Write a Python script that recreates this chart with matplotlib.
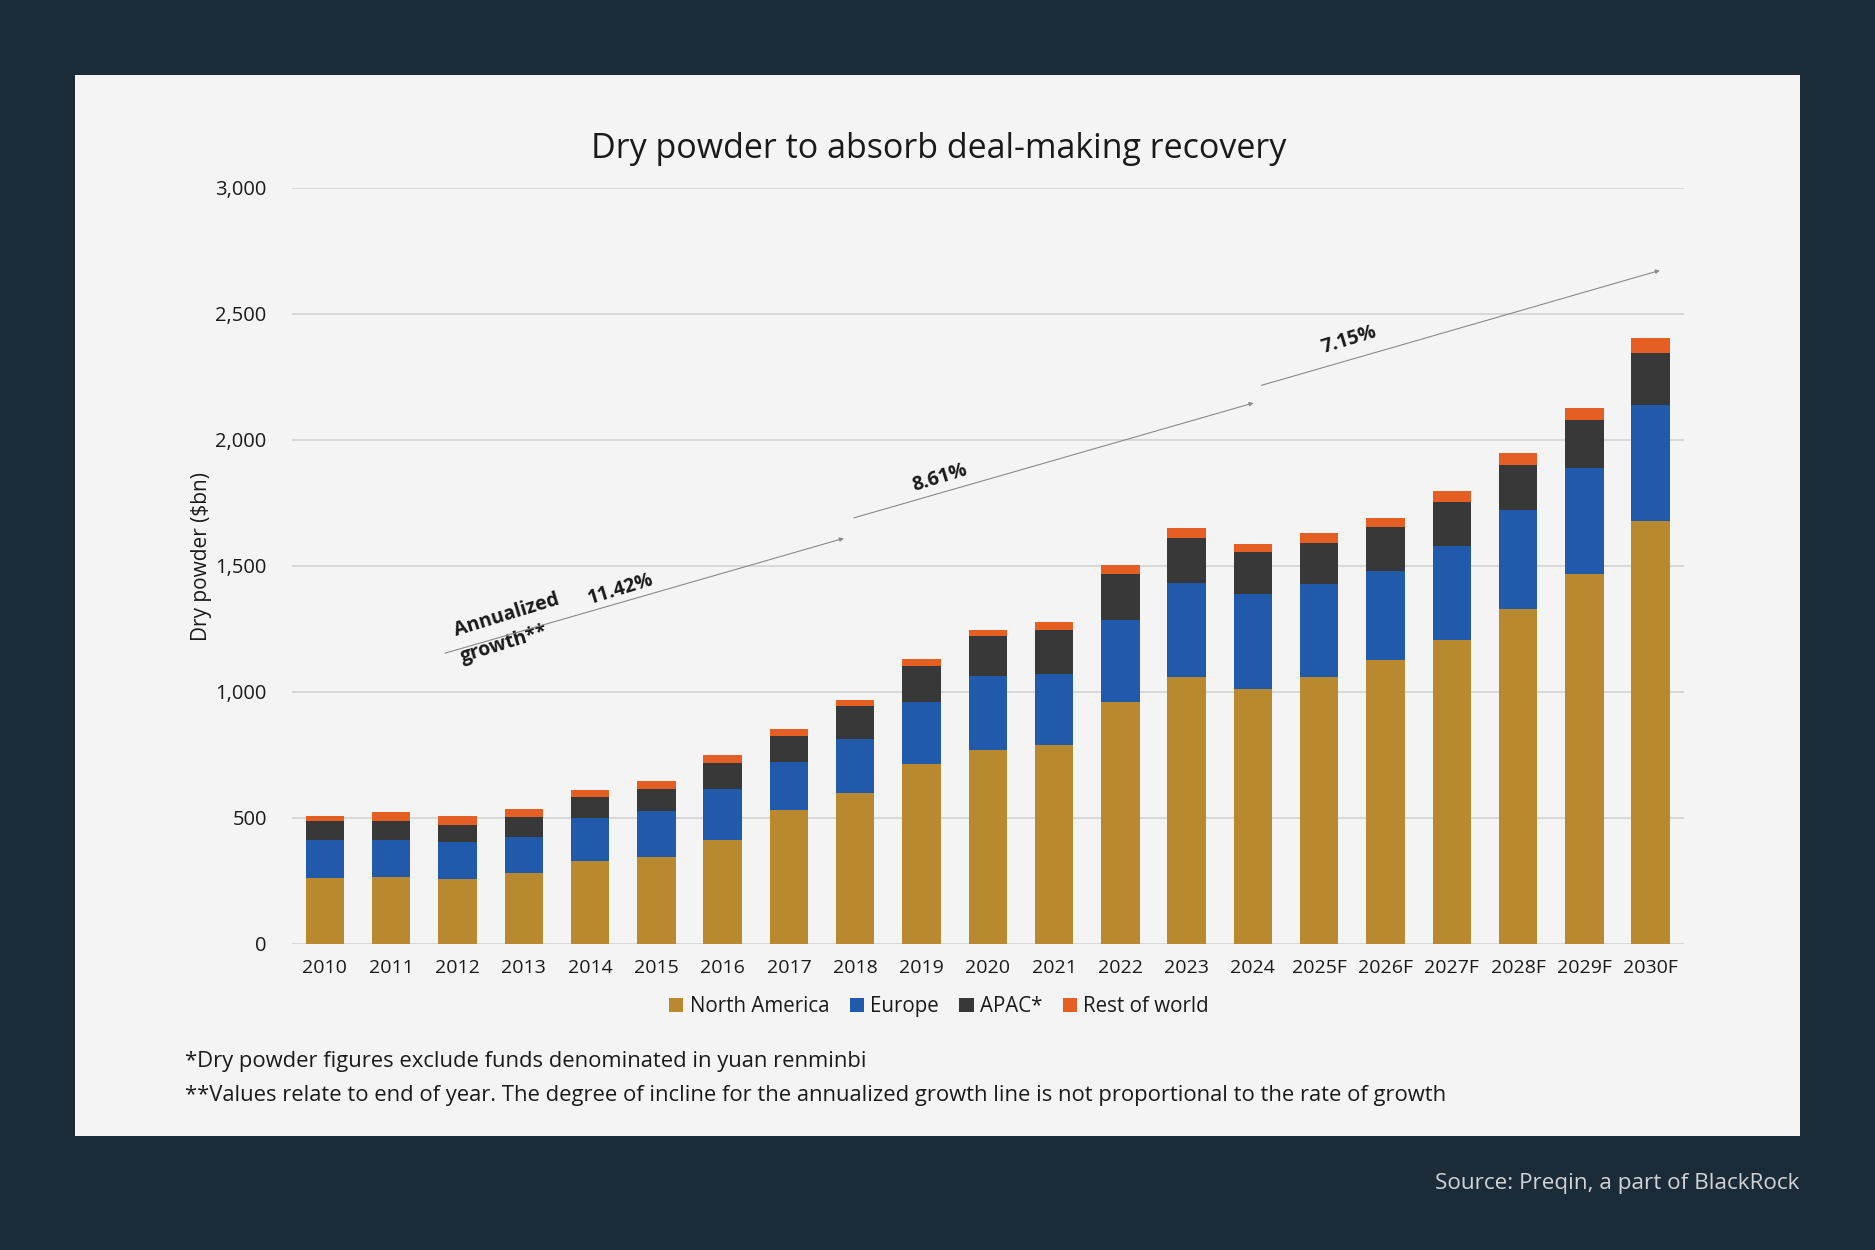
import matplotlib
matplotlib.use("Agg")
import matplotlib.pyplot as plt
import numpy as np

plt.rcParams['font.family'] = ['Open Sans', 'DejaVu Sans']

years = ["2010", "2011", "2012", "2013", "2014", "2015", "2016", "2017", "2018", "2019",
         "2020", "2021", "2022", "2023", "2024", "2025F", "2026F", "2027F", "2028F", "2029F", "2030F"]
# cumulative tops, converted to segment values below
na_top   = [262, 264, 257, 282, 328, 343, 413, 532, 598, 714, 770, 789, 959, 1060, 1012, 1058, 1125, 1206, 1329, 1467, 1676]
eu_top   = [413, 412, 403, 422, 500, 525, 613, 721, 812, 959, 1061, 1070, 1283, 1432, 1388, 1428, 1479, 1578, 1723, 1889, 2136]
apac_top = [486, 488, 472, 501, 582, 613, 718, 826, 945, 1102, 1221, 1246, 1469, 1612, 1553, 1592, 1652, 1753, 1899, 2079, 2345]
row_top  = [505, 521, 505, 533, 611, 646, 749, 854, 968, 1130, 1246, 1278, 1502, 1650, 1586, 1630, 1691, 1796, 1946, 2127, 2402]

north_america = np.array(na_top)
europe = np.array(eu_top) - np.array(na_top)
apac = np.array(apac_top) - np.array(eu_top)
rest_of_world = np.array(row_top) - np.array(apac_top)

series_names = ["North America", "Europe", "APAC*", "Rest of world"]
colors = ["#B8892F", "#215AAB", "#383838", "#E55F25"]

growth_labels = ["11.42%", "8.61%", "7.15%"]
# arrow segments in data coords
growth_x0 = [1.81, 7.98, 14.13]
growth_x1 = [7.83, 14.01, 20.14]
growth_y0 = [1153, 1690, 2216]
growth_y1 = [1609, 2146, 2672]

BG = "#1B2B37"
PANEL = "#F4F4F4"

fig = plt.figure(figsize=(18.75, 12.5), dpi=100)
fig.patch.set_facecolor(BG)

# white panel as background axes
bg = fig.add_axes([0.0402, 0.0909, 0.9196, 0.8488], zorder=-1)
bg.set_facecolor(PANEL)
bg.set_xticks([]); bg.set_yticks([])
for s in bg.spines.values():
    s.set_visible(False)

ax = fig.add_axes([0.1556, 0.2450, 0.7424, 0.6048], zorder=1)
ax.set_facecolor('none')
x = np.arange(len(years))
w = 0.58
bottom = np.zeros(len(years))
for vals, c, name in zip([north_america, europe, apac, rest_of_world], colors, series_names):
    ax.bar(x, vals, w, bottom=bottom, color=c, label=name, zorder=3, linewidth=0)
    bottom = bottom + vals

ax.set_xlim(-0.5, len(years) - 0.5)
ax.set_ylim(0, 3000)
ax.set_yticks(np.arange(0, 3001, 500))
ax.set_yticklabels([f"{v:,}" for v in range(0, 3001, 500)])
ax.set_xticks(x)
ax.set_xticklabels(years)
ax.grid(axis='y', color='#D3D3D3', linewidth=1.2, zorder=0)
for s in ax.spines.values():
    s.set_visible(False)
ax.tick_params(axis='y', length=0, labelsize=14.5, colors='#1A1A1A', pad=18)
ax.tick_params(axis='x', length=0, labelsize=14, colors='#1A1A1A', pad=11)
ax.set_ylabel("Dry powder ($bn)", fontsize=15, color='#1A1A1A')
ax.yaxis.set_label_coords(-0.057, 0.512)

# growth arrows
for x0, x1, y0, y1 in zip(growth_x0, growth_x1, growth_y0, growth_y1):
    ax.annotate("", xy=(x1, y1), xytext=(x0, y0),
                arrowprops=dict(arrowstyle='-|>', color='#8A8A8A', lw=0.8,
                                mutation_scale=6, shrinkA=0, shrinkB=0), zorder=4)

ang = 17
kw = dict(rotation=ang, fontsize=14, fontweight='bold', ha='center', va='center',
          color='#1A1A1A', rotation_mode='anchor')
ax.text(2.75, 1305, "Annualized", **kw)
ax.text(2.7, 1190, "growth**", **kw)
ax.text(4.46, 1405, growth_labels[0], **kw)
ax.text(9.28, 1850, growth_labels[1], **kw)
ax.text(15.45, 2398, growth_labels[2], **kw)

leg = ax.legend(loc='upper center', bbox_to_anchor=(0.465, -0.045), ncol=4, frameon=False,
                fontsize=14.8, handlelength=0.7, handleheight=0.7, handletextpad=0.3,
                columnspacing=1.0)
for t in leg.get_texts():
    t.set_color('#1A1A1A')

fig.text(0.5006, 0.881, "Dry powder to absorb deal-making recovery", ha='center', va='center',
         fontsize=24.5, color='#1A1A1A')
fig.text(0.0985, 0.151, "*Dry powder figures exclude funds denominated in yuan renminbi",
         ha='left', va='center', fontsize=15.8, color='#1A1A1A')
fig.text(0.0985, 0.1235,
         "**Values relate to end of year. The degree of incline for the annualized growth line is not proportional to the rate of growth",
         ha='left', va='center', fontsize=15.8, color='#1A1A1A')
fig.text(0.9598, 0.0536, "Source: Preqin, a part of BlackRock", ha='right', va='center',
         fontsize=16.2, color='#D0D4D8')

fig.savefig("out.png", dpi=100, facecolor=BG)
